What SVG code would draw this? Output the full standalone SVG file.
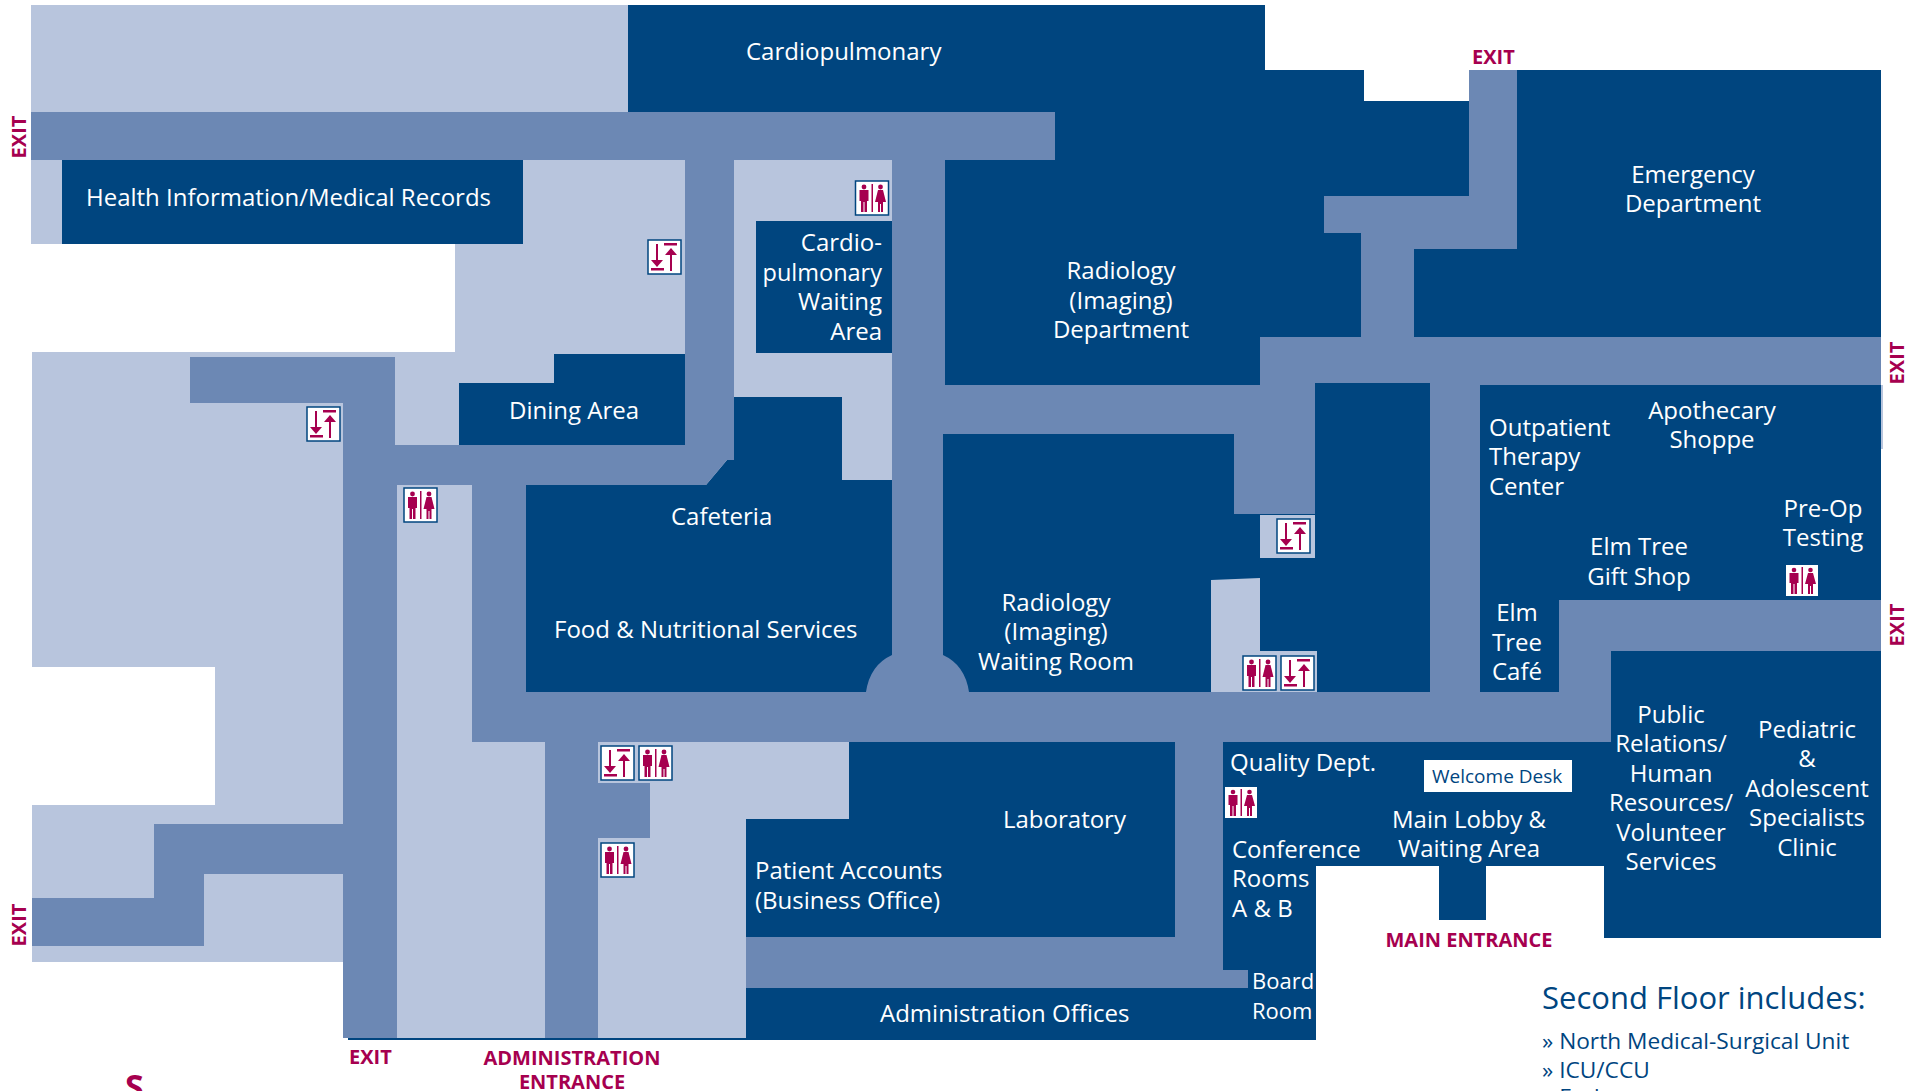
<svg xmlns="http://www.w3.org/2000/svg" width="1921" height="1091" viewBox="0 0 1921 1091">
<style>
.l{fill:#b8c5dd}.d{fill:#00457f}.m{fill:#6c88b4}
text{font-family:"Open Sans","Noto Sans",sans-serif}
.t{fill:#fff;font-size:24px}
.c{text-anchor:middle}.r{text-anchor:end}
.x{fill:#a6004f;font-family:"Open Sans",sans-serif;font-size:20px;font-weight:700}
.n{fill:#00457f}
</style>
<defs>
<g id="rest"><rect x="0" y="0" width="33" height="34" fill="#fff" stroke="#00457f" stroke-width="1.5"/><g fill="#a6004f"><rect x="16" y="3" width="1.5" height="28"/><circle cx="8.5" cy="6" r="2.4"/><path d="M4 9h9v11h-1.5v11h-2.500v-10h-1v10h-2.500v-11h-1.500z"/><circle cx="25" cy="6" r="2.400"/><path d="M22.500 9h5l3 12h-3v10h-2v-8h-1v8h-2v-10h-3z"/></g></g>
<g id="rest2"><rect x="0" y="0" width="32" height="31" fill="#fff"/><g fill="#a6004f"><rect x="15.500" y="2" width="1.500" height="27"/><circle cx="8" cy="5" r="2.300"/><path d="M3.500 8h9v10h-1.500v11h-2.500v-10h-1v10h-2.500v-11h-1.500z"/><circle cx="24.500" cy="5" r="2.300"/><path d="M22 8h5l3 11h-3v10h-2v-8h-1v8h-2v-10h-3z"/></g></g>
<g id="lift"><rect x="0" y="0" width="33" height="34" fill="#fff" stroke="#00457f" stroke-width="1.500"/><g fill="#a6004f"><rect x="8" y="4" width="2" height="19"/><path d="M3 20h12l-6 7z"/><rect x="3" y="28" width="13" height="2.500"/><rect x="16" y="3" width="13" height="2.500"/><rect x="22" y="12" width="2" height="19"/><path d="M17 15h12l-6-7z"/></g></g>
</defs>
<rect width="1921" height="1091" fill="#fff"/>
<g id="light-areas">
<path class="l" d="M31 5H628V112H31zM31 160H685V352H455V244H31zM734 160H892V485H734z"/>
<path class="l" d="M32 352H734V485H343V962H32V805H215V667H32z"/>
<path class="l" d="M343 485H472V742H849V819H746V1038H343zM1790 385H1883V449H1790z"/>
</g>
<g id="dark-areas">
<path class="d" id="radiology-block" d="M628 5H1265V70H1364V101H1469V196H1324V233H1361V337H1260V385H945V160H1055V112H628z"/>
<path class="d" id="emergency" d="M1517 70H1881V337H1414V249H1517z"/>
<rect class="d" id="him" x="62" y="160" width="461" height="84"/>
<path class="d" id="dining" d="M554 354H685V445H459V383H554z"/>
<rect class="d" id="cardio-waiting" x="756" y="221" width="136" height="132"/>
<path class="d" id="cafeteria" d="M734 397H842V480H892V692H526V485H706L727 460H734z"/>
<path class="d" id="rad-waiting" d="M943 434H1234V514H1315V383H1430V692H943z"/>
<path class="d" id="east" d="M1480 385H1881V600H1559V693H1480z"/>
<path class="d" id="lab" d="M849 742H1175V937H746V819H849z"/>
<path class="d" id="lobby" d="M1223 742H1611V651H1881V938H1604V866H1486V920H1439V866H1316V1040H746V988H1248V970H1223z"/>
<path class="l" d="M1260 515H1315V558H1260zM1211 580L1260 578V651H1317V692H1211z"/>
<path d="M348 1039H746" stroke="#00457f" stroke-width="2" fill="none"/>
</g>
<g id="corridors">
<path class="m" d="M31 112H1055V160H31z"/>
<path class="m" d="M685 160H734V460H727L706 485H397V1038H343V403H190V357H395V445H685z"/>
<path class="m" d="M472 485H526V692H1611V742H472z"/>
<path class="m" d="M892 160H945V385H943V655Q965 665 969 692H866Q870 665 892 655z"/>
<path class="m" d="M943 385H1260V337H1361V233H1324V196H1469V70H1517V249H1414V337H1881V385H1430V383H1315V514H1234V434H943z"/>
<rect class="m" x="1430" y="385" width="50" height="307"/>
<path class="m" d="M1559 600H1881V651H1611V692H1559z"/>
<path class="m" d="M545 742H598V783H650V838H598V1038H545z"/>
<path class="m" d="M1175 742H1223V970H1248V988H746V937H1175z"/>
<path class="m" d="M343 824H154V898H32V946H204V874H343z"/>
</g>
<g id="icons">
<use href="#rest" x="855.500" y="181"/>
<use href="#lift" x="648" y="240"/>
<use href="#lift" x="307" y="407"/>
<use href="#rest" x="404" y="488"/>
<use href="#lift" x="601" y="746"/>
<use href="#rest" x="639" y="746"/>
<use href="#rest" x="601" y="843"/>
<use href="#lift" x="1277" y="519"/>
<use href="#rest" x="1243" y="656"/>
<use href="#lift" x="1281" y="656"/>
<use href="#rest2" x="1225" y="787"/>
<use href="#rest2" x="1786" y="565"/>
</g>
<g id="labels">
<text class="t" x="746" y="60">Cardiopulmonary</text>
<text class="t" x="86" y="206">Health Information/Medical Records</text>
<g class="t r"><text x="882" y="251">Cardio-</text><text x="882" y="281" font-size="23.500px">pulmonary</text><text x="882" y="310">Waiting</text><text x="882" y="340">Area</text></g>
<text class="t" x="509" y="419">Dining Area</text>
<text class="t" x="671" y="525">Cafeteria</text>
<text class="t" x="554" y="638">Food &amp; Nutritional Services</text>
<g class="t c"><text x="1121" y="279">Radiology</text><text x="1121" y="309">(Imaging)</text><text x="1121" y="338">Department</text></g>
<g class="t c"><text x="1693" y="183">Emergency</text><text x="1693" y="212">Department</text></g>
<g class="t"><text x="1489" y="436">Outpatient</text><text x="1489" y="465">Therapy</text><text x="1489" y="495">Center</text></g>
<g class="t c"><text x="1712" y="419">Apothecary</text><text x="1712" y="448">Shoppe</text></g>
<g class="t c"><text x="1823" y="517">Pre-Op</text><text x="1823" y="546">Testing</text></g>
<g class="t c"><text x="1639" y="555">Elm Tree</text><text x="1639" y="585">Gift Shop</text></g>
<g class="t c"><text x="1517" y="621">Elm</text><text x="1517" y="651">Tree</text><text x="1517" y="680">Café</text></g>
<g class="t c"><text x="1056" y="611">Radiology</text><text x="1056" y="640">(Imaging)</text><text x="1056" y="670">Waiting Room</text></g>
<text class="t" x="1230" y="771">Quality Dept.</text>
<g id="welcome"><rect x="1424" y="760" width="148" height="32" fill="#fff"/><text class="n" x="1432" y="783" font-size="19px">Welcome Desk</text></g>
<g class="t c"><text x="1469" y="828">Main Lobby &amp;</text><text x="1469" y="857">Waiting Area</text></g>
<g class="t"><text x="1232" y="858">Conference</text><text x="1232" y="887">Rooms</text><text x="1232" y="917">A &amp; B</text></g>
<text class="t" x="1003" y="828">Laboratory</text>
<g class="t"><text x="755" y="879">Patient Accounts</text><text x="755" y="909">(Business Office)</text></g>
<text class="t" x="880" y="1022">Administration Offices</text>
<g class="t" font-size="22px"><text x="1252" y="989" style="font-size:22px">Board</text><text x="1252" y="1019" style="font-size:22px">Room</text></g>
<g class="t c"><text x="1671" y="723">Public</text><text x="1671" y="752">Relations/</text><text x="1671" y="782">Human</text><text x="1671" y="811">Resources/</text><text x="1671" y="841">Volunteer</text><text x="1671" y="870">Services</text></g>
<g class="t c"><text x="1807" y="738">Pediatric</text><text x="1807" y="767">&amp;</text><text x="1807" y="797">Adolescent</text><text x="1807" y="826">Specialists</text><text x="1807" y="856">Clinic</text></g>
</g>
<g id="exits">
<text class="x" x="1472" y="64">EXIT</text>
<text class="x" transform="translate(26 137) rotate(-90)" text-anchor="middle">EXIT</text>
<text class="x" transform="translate(26 925) rotate(-90)" text-anchor="middle">EXIT</text>
<text class="x" transform="translate(1904 363) rotate(-90)" text-anchor="middle">EXIT</text>
<text class="x" transform="translate(1904 625) rotate(-90)" text-anchor="middle">EXIT</text>
<text class="x" x="349" y="1064">EXIT</text>
<text class="x c" x="572" y="1065">ADMINISTRATION</text>
<text class="x c" x="572" y="1089">ENTRANCE</text>
<text class="x c" x="1469" y="947">MAIN ENTRANCE</text>
<text class="x" x="125" y="1099" style="font-size:34px">S</text>
</g>
<g id="second-floor" class="n">
<text x="1542" y="1009" font-size="31px">Second Floor includes:</text>
<text x="1542" y="1049" font-size="22.700px">» North Medical-Surgical Unit</text>
<text x="1542" y="1078" font-size="22.700px">» ICU/CCU</text>
<text x="1542" y="1105" font-size="22.700px">» Endoscopy</text>
</g>
</svg>
